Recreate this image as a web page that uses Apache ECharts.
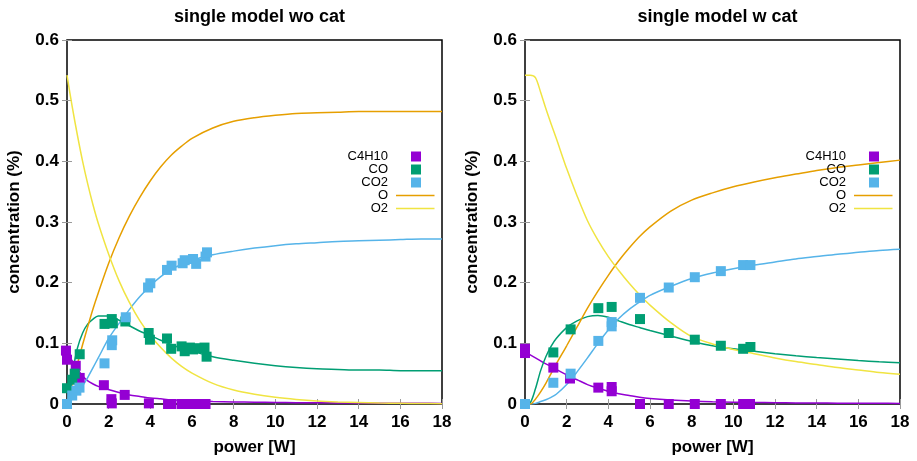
<!DOCTYPE html>
<html>
<head>
<meta charset="utf-8">
<script src="https://cdn.jsdelivr.net/npm/echarts@6/dist/echarts.min.js"></script>
<style>
  html, body { margin: 0; padding: 0; background: #fff; }
  #chart { width: 917px; height: 461px; }
</style>
</head>
<body>
<div id="chart"></div>
<script>
// ---- data -------------------------------------------------------------
const panelTitles = ['single model wo cat', 'single model w cat'];
const speciesNames = ['C4H10', 'CO', 'CO2', 'O', 'O2'];
const xTicks = [0, 2, 4, 6, 8, 10, 12, 14, 16, 18];
const yTicks = [0, 0.1, 0.2, 0.3, 0.4, 0.5, 0.6];

// measured points [power W, concentration %] — without catalyst
const woCatC4H10 = [[-0.05,0.088],[0,0.073],[0.42,0.063],[0.61,0.043],[1.77,0.031],[2.13,0.008],[2.15,0.001],[2.77,0.015],[3.93,0.001],[4.85,0],[5.0,0],[5.5,0],[5.7,0],[6.0,0],[6.3,0],[6.65,0]];
const woCatCO    = [[0,0.026],[0.25,0.04],[0.37,0.05],[0.61,0.082],[1.8,0.132],[2.15,0.14],[2.2,0.133],[2.8,0.136],[3.92,0.117],[3.98,0.106],[4.8,0.108],[5.0,0.091],[5.5,0.095],[5.65,0.087],[5.9,0.093],[6.05,0.09],[6.3,0.092],[6.6,0.093],[6.7,0.078]];
const woCatCO2   = [[0,0],[0.25,0.014],[0.45,0.022],[0.6,0.027],[1.8,0.067],[2.15,0.097],[2.17,0.105],[2.82,0.143],[3.89,0.192],[4.0,0.199],[4.8,0.221],[5.02,0.228],[5.55,0.232],[5.65,0.237],[6.05,0.239],[6.2,0.231],[6.65,0.243],[6.72,0.25]];

// measured points — with catalyst
const wCatC4H10 = [[0,0.091],[0,0.084],[1.36,0.060],[2.16,0.042],[3.52,0.027],[4.16,0.028],[4.16,0.021],[5.52,0],[6.9,0],[8.15,0],[9.4,0],[10.47,0],[10.8,0]];
const wCatCO    = [[0,0],[1.36,0.085],[2.19,0.123],[3.52,0.158],[4.16,0.160],[5.52,0.140],[6.9,0.117],[8.15,0.106],[9.4,0.096],[10.47,0.091],[10.82,0.094]];
const wCatCO2   = [[0,0],[1.36,0.035],[2.19,0.050],[3.52,0.104],[4.16,0.135],[4.16,0.128],[5.52,0.175],[6.9,0.192],[8.15,0.209],[9.4,0.219],[10.47,0.229],[10.82,0.229]];

// model curves sampled on a common power grid
const fitPower = [0,0.25,0.5,0.75,1,1.25,1.5,2,2.5,3,3.5,4,4.5,5,5.5,6,7,8,9,10,11,12,13,14,15,16,17,18];

const woFitC4H10 = [0.085,0.071,0.058,0.046,0.038,0.033,0.029,0.024,0.019,0.015,0.0125,0.010,0.0085,0.007,0.006,0.005,0.004,0.0035,0.003,0.0025,0.0022,0.002,0.0018,0.0016,0.0014,0.0012,0.0011,0.001];
const woFitCO    = [0,0.05,0.092,0.117,0.132,0.140,0.145,0.145,0.138,0.129,0.120,0.113,0.105,0.098,0.092,0.087,0.078,0.072,0.067,0.063,0.060,0.058,0.057,0.056,0.056,0.055,0.055,0.055];
const woFitCO2   = [0,0.008,0.018,0.030,0.044,0.060,0.076,0.108,0.133,0.156,0.177,0.195,0.210,0.222,0.230,0.237,0.246,0.252,0.257,0.261,0.264,0.266,0.268,0.269,0.270,0.271,0.272,0.272];
const woFitO     = [0,0.033,0.066,0.098,0.128,0.157,0.183,0.232,0.274,0.310,0.341,0.368,0.391,0.410,0.425,0.438,0.455,0.466,0.472,0.476,0.479,0.480,0.481,0.482,0.482,0.482,0.482,0.482];
const woFitO2    = [0.542,0.490,0.443,0.400,0.362,0.328,0.298,0.247,0.203,0.167,0.137,0.113,0.093,0.076,0.062,0.051,0.034,0.023,0.016,0.011,0.0075,0.005,0.0035,0.0025,0.0017,0.0012,0.0008,0.0005];

const wFitC4H10 = [0.086,0.081,0.076,0.071,0.066,0.062,0.057,0.048,0.040,0.032,0.026,0.021,0.017,0.014,0.011,0.009,0.0065,0.0048,0.0038,0.003,0.0025,0.0021,0.0018,0.0016,0.0014,0.0012,0.0011,0.001];
const wFitCO    = [0,0.002,0.025,0.055,0.078,0.095,0.108,0.126,0.137,0.144,0.146,0.143,0.137,0.131,0.126,0.121,0.112,0.103,0.096,0.091,0.087,0.083,0.0795,0.0765,0.074,0.0717,0.0697,0.068];
const wFitCO2   = [0,0,0.001,0.004,0.007,0.011,0.016,0.032,0.053,0.076,0.100,0.122,0.141,0.156,0.168,0.179,0.194,0.207,0.216,0.223,0.229,0.234,0.239,0.243,0.247,0.250,0.253,0.255];
const wFitO     = [0,0,0.008,0.020,0.034,0.050,0.066,0.096,0.127,0.158,0.186,0.212,0.236,0.257,0.276,0.292,0.318,0.336,0.348,0.358,0.366,0.373,0.379,0.385,0.390,0.394,0.398,0.402];
const wFitO2    = [0.542,0.542,0.538,0.514,0.487,0.462,0.438,0.388,0.343,0.302,0.270,0.243,0.220,0.199,0.180,0.163,0.134,0.111,0.099,0.090,0.083,0.076,0.070,0.065,0.060,0.056,0.052,0.049];

// ---- styling ----------------------------------------------------------
const colors = { C4H10: '#9400d3', CO: '#009e73', CO2: '#56b4e9', O: '#e69f00', O2: '#f0e442' };
const FONT = '"Liberation Sans", Arial, Helvetica, sans-serif';

const panels = [
  { title: panelTitles[0], left: 67, pts: [woCatC4H10, woCatCO, woCatCO2], fits: [woFitC4H10, woFitCO, woFitCO2, woFitO, woFitO2] },
  { title: panelTitles[1], left: 525, pts: [wCatC4H10, wCatCO, wCatCO2], fits: [wFitC4H10, wFitCO, wFitCO2, wFitO, wFitO2] }
];
const GRID_TOP = 40, GRID_W = 375, GRID_H = 366;

const pair = (xs, ys) => xs.map((x, i) => [x, ys[i]]);

const grids = [], xAxes = [], yAxes = [], series = [], titles = [], graphics = [];

panels.forEach((p, gi) => {
  grids.push({ left: p.left, top: GRID_TOP, width: GRID_W, height: GRID_H, show: true,
    borderColor: '#000', borderWidth: 1.5, backgroundColor: 'transparent', containLabel: false });

  const tickStyle = { inside: true, length: 5, lineStyle: { color: '#9a9a9a', width: 1 } };
  const labelStyle = { fontSize: 17, fontWeight: 'bold', color: '#000', fontFamily: FONT };

  xAxes.push({ gridIndex: gi, type: 'value', min: xTicks[0], max: xTicks[xTicks.length - 1],
    interval: xTicks[1] - xTicks[0], position: 'bottom',
    axisLine: { show: false }, axisTick: tickStyle, splitLine: { show: false },
    axisLabel: Object.assign({ margin: 10 }, labelStyle),
    name: 'power [W]', nameLocation: 'middle', nameGap: 35,
    nameTextStyle: labelStyle });
  xAxes.push({ gridIndex: gi, type: 'value', min: xTicks[0], max: xTicks[xTicks.length - 1],
    interval: xTicks[1] - xTicks[0], position: 'top',
    axisLine: { show: false }, axisTick: tickStyle, splitLine: { show: false }, axisLabel: { show: false } });

  yAxes.push({ gridIndex: gi, type: 'value', min: yTicks[0], max: yTicks[yTicks.length - 1],
    interval: yTicks[1] - yTicks[0], position: 'left',
    axisLine: { show: false }, axisTick: tickStyle, splitLine: { show: false },
    axisLabel: Object.assign({ margin: 8, formatter: v => (v === 0 ? '0' : v.toFixed(1)) }, labelStyle),
    name: 'concentration (%)', nameLocation: 'middle', nameGap: 44, nameRotate: 90,
    nameTextStyle: labelStyle });
  yAxes.push({ gridIndex: gi, type: 'value', min: yTicks[0], max: yTicks[yTicks.length - 1],
    interval: yTicks[1] - yTicks[0], position: 'right',
    axisLine: { show: false }, axisTick: tickStyle, splitLine: { show: false }, axisLabel: { show: false } });

  const xi = gi * 2, yi = gi * 2;

  // fitted model curves
  speciesNames.forEach((name, k) => {
    series.push({ type: 'line', name: name + (k < 3 ? ' fit' : ''), xAxisIndex: xi, yAxisIndex: yi,
      data: pair(fitPower, p.fits[k]), showSymbol: false, smooth: 0.3,
      lineStyle: { color: colors[name], width: 1.5 }, itemStyle: { color: colors[name] },
      z: 2, silent: true });
  });

  // measured points
  for (let k = 0; k < 3; k++) {
    const name = speciesNames[k];
    series.push({ type: 'scatter', name, xAxisIndex: xi, yAxisIndex: yi, data: p.pts[k],
      symbol: 'rect', symbolSize: 10, itemStyle: { color: colors[name], opacity: 1 },
      clip: false, z: 3, silent: true });
  }

  titles.push({ text: p.title, left: p.left + GRID_W / 2, top: 3, textAlign: 'center',
    textStyle: { fontSize: 18, fontWeight: 'bold', color: '#000', fontFamily: FONT } });

  // key, gnuplot style: label right-aligned, sample to its right
  const right = p.left + GRID_W;
  speciesNames.forEach((name, k) => {
    const y = GRID_TOP + 116.5 + k * 13;
    graphics.push({ type: 'text', z: 10, style: { text: name, x: right - 54, y,
      align: 'right', verticalAlign: 'middle', font: '13px ' + FONT, fill: '#000' } });
    if (k < 3) {
      graphics.push({ type: 'rect', z: 10, shape: { x: right - 31, y: y - 5, width: 10, height: 10 },
        style: { fill: colors[name] } });
    } else {
      graphics.push({ type: 'line', z: 10, shape: { x1: right - 46, y1: y, x2: right - 7.5, y2: y },
        style: { stroke: colors[name], lineWidth: 1.5 } });
    }
  });
});

const chart = echarts.init(document.getElementById('chart'), null, { renderer: 'canvas' });
chart.setOption({
  animation: false,
  backgroundColor: '#fff',
  title: titles,
  grid: grids,
  xAxis: xAxes,
  yAxis: yAxes,
  series,
  graphic: graphics
});
</script>
</body>
</html>
